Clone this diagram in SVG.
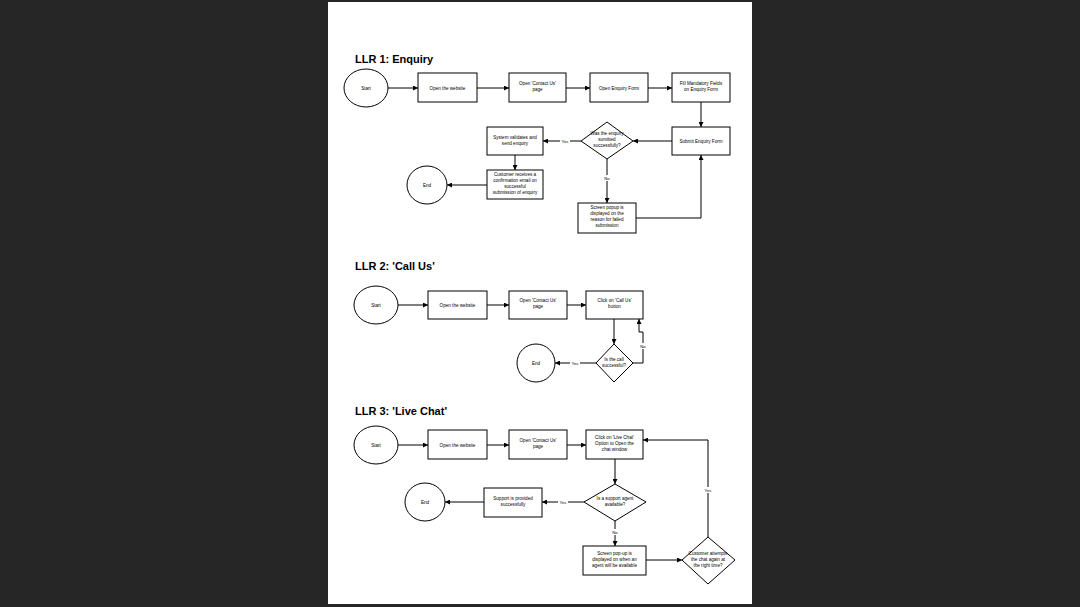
<svg xmlns="http://www.w3.org/2000/svg" width="1080" height="607" viewBox="0 0 1080 607">
<style>
.n{fill:#fff;stroke:#000;stroke-width:1}
.t{font-family:"Liberation Sans",Arial,sans-serif;font-size:4.6px;fill:#000;text-anchor:middle}
.h{font-family:"Liberation Sans",Arial,sans-serif;font-size:11px;font-weight:bold;fill:#000}
.c{fill:none;stroke:#000;stroke-width:1;marker-end:url(#a)}
.l{font-family:"Liberation Sans",Arial,sans-serif;font-size:4.2px;fill:#000;text-anchor:middle}
</style>
<defs><marker id="a" viewBox="0 0 6 6" refX="6" refY="3" markerWidth="5" markerHeight="5" orient="auto" markerUnits="userSpaceOnUse"><path d="M0,0L6,3L0,6z" fill="#000"/></marker></defs>
<rect width="1080" height="607" fill="#262626"/>
<rect x="328" y="2" width="424" height="602" fill="#fff"/>
<text class="h" x="355" y="63">LLR 1: Enquiry</text>
<text class="h" x="355" y="270">LLR 2: 'Call Us'</text>
<text class="h" x="355" y="415">LLR 3: 'Live Chat'</text>
<g id="connectors">
<path class="c" d="M388,88H418"/><path class="c" d="M477,88H509"/><path class="c" d="M566,88H590"/><path class="c" d="M648,88H672"/>
<path class="c" d="M701,102V127"/><path class="c" d="M672,141H633"/><path class="c" d="M581,141H543"/>
<path class="c" d="M515,155V170"/><path class="c" d="M487,185H447"/><path class="c" d="M607,159V203"/>
<path class="c" d="M636,218H701V155"/>
<path class="c" d="M398,305H428"/><path class="c" d="M487,305H509"/><path class="c" d="M567,305H586"/>
<path class="c" d="M614,319V344"/><path class="c" d="M596,363H555"/><path class="c" d="M633,363H643V332H639V319"/>
<path class="c" d="M398,445H428"/><path class="c" d="M487,445H509"/><path class="c" d="M567,445H586"/>
<path class="c" d="M615,459V484"/><path class="c" d="M584,502H542"/><path class="c" d="M484,502H445"/>
<path class="c" d="M615,521V546"/><path class="c" d="M646,560H682"/><path class="c" d="M708,537V440H643"/>
<rect x="560" y="138" width="10" height="6" fill="#fff"/><text class="l" x="565" y="142.5">Yes</text>
<rect x="603" y="175" width="8" height="6" fill="#fff"/><text class="l" x="607" y="179.5">No</text>
<rect x="570" y="360" width="10" height="6" fill="#fff"/><text class="l" x="575" y="364.5">Yes</text>
<rect x="639" y="343" width="8" height="6" fill="#fff"/><text class="l" x="643" y="347.5">No</text>
<rect x="558" y="499" width="10" height="6" fill="#fff"/><text class="l" x="563" y="503.5">Yes</text>
<rect x="611" y="529" width="8" height="6" fill="#fff"/><text class="l" x="615" y="533.5">No</text>
<rect x="703" y="487" width="10" height="6" fill="#fff"/><text class="l" x="708" y="491.5">Yes</text>
</g>
<g id="s1"><ellipse class="n" cx="366" cy="88" rx="22" ry="19"/><text class="t" x="366" y="89.5">Start</text></g>
<g id="w1"><rect class="n" x="418" y="73" width="59" height="29"/><text class="t" x="447.5" y="89.5">Open the website</text></g>
<g id="c1"><rect class="n" x="509" y="73" width="57" height="29"/><text class="t" x="537.5" y="85">Open 'Contact Us'</text><text class="t" x="537.5" y="91">page</text></g>
<g id="e1"><rect class="n" x="590" y="73" width="58" height="29"/><text class="t" x="619" y="89.5">Open Enquiry Form</text></g>
<g id="f1"><rect class="n" x="672" y="73" width="58" height="29"/><text class="t" x="701" y="85">Fill Mandatory Fields</text><text class="t" x="701" y="91">on Enquiry Form</text></g>
<g id="sub1"><rect class="n" x="672" y="127" width="58" height="28"/><text class="t" x="701" y="142.5">Submit Enquiry Form</text></g>
<g id="d1"><path class="n" d="M607,122L633,141L607,159L581,141Z"/><text class="t" x="607" y="135">Was the enquiry</text><text class="t" x="607" y="141">sumitted</text><text class="t" x="607" y="147">successfully?</text></g>
<g id="v1"><rect class="n" x="487" y="127" width="56" height="28"/><text class="t" x="515" y="139">System validates and</text><text class="t" x="515" y="145">send enquiry</text></g>
<g id="r1"><rect class="n" x="487" y="170" width="56" height="29"/><text class="t" x="515" y="176">Customer receives a</text><text class="t" x="515" y="182">confirmation email on</text><text class="t" x="515" y="188">successful</text><text class="t" x="515" y="194">submission of enquiry</text></g>
<g id="end1"><ellipse class="n" cx="427" cy="185" rx="20" ry="19"/><text class="t" x="427" y="186.5">End</text></g>
<g id="p1"><rect class="n" x="578" y="203" width="58" height="30"/><text class="t" x="607" y="209">Screen popup is</text><text class="t" x="607" y="215">displayed on the</text><text class="t" x="607" y="221">reason for failed</text><text class="t" x="607" y="227">submission</text></g>
<g id="s2"><ellipse class="n" cx="376" cy="305" rx="22" ry="19"/><text class="t" x="376" y="306.5">Start</text></g>
<g id="w2"><rect class="n" x="428" y="291" width="59" height="28"/><text class="t" x="457.5" y="306.5">Open the website</text></g>
<g id="c2"><rect class="n" x="509" y="291" width="58" height="28"/><text class="t" x="538" y="302">Open 'Contact Us'</text><text class="t" x="538" y="308">page</text></g>
<g id="k2"><rect class="n" x="586" y="291" width="57" height="28"/><text class="t" x="614.5" y="302">Click on 'Call Us'</text><text class="t" x="614.5" y="308">button</text></g>
<g id="d2"><path class="n" d="M614,344L633,363L614,382L596,363Z"/><text class="t" x="614" y="361">Is the call</text><text class="t" x="614" y="367">successful?</text></g>
<g id="end2"><ellipse class="n" cx="536" cy="363" rx="19" ry="19"/><text class="t" x="536" y="364.5">End</text></g>
<g id="s3"><ellipse class="n" cx="376" cy="445" rx="22" ry="19"/><text class="t" x="376" y="446.5">Start</text></g>
<g id="w3"><rect class="n" x="428" y="430" width="59" height="29"/><text class="t" x="457.5" y="446.5">Open the website</text></g>
<g id="c3"><rect class="n" x="509" y="430" width="58" height="29"/><text class="t" x="538" y="442">Open 'Contact Us'</text><text class="t" x="538" y="448">page</text></g>
<g id="k3"><rect class="n" x="586" y="430" width="57" height="29"/><text class="t" x="614.5" y="439">Click on 'Live Chat'</text><text class="t" x="614.5" y="445">Option to Open the</text><text class="t" x="614.5" y="451">chat window</text></g>
<g id="d3"><path class="n" d="M615,484L646,502L615,521L584,502Z"/><text class="t" x="615" y="500">Is a support agent</text><text class="t" x="615" y="506">available?</text></g>
<g id="sp3"><rect class="n" x="484" y="488" width="58" height="29"/><text class="t" x="513" y="500">Support is provided</text><text class="t" x="513" y="506">successfully</text></g>
<g id="end3"><ellipse class="n" cx="425" cy="502" rx="20" ry="19"/><text class="t" x="425" y="503.5">End</text></g>
<g id="p3"><rect class="n" x="583" y="546" width="63" height="29"/><text class="t" x="614.5" y="555">Screen pop-up is</text><text class="t" x="614.5" y="561">displayed on when an</text><text class="t" x="614.5" y="567">agent will be available</text></g>
<g id="d4"><path class="n" d="M708,537L735,560L708,584L682,560Z"/><text class="t" x="708" y="555">Customer attempts</text><text class="t" x="708" y="561">the chat again at</text><text class="t" x="708" y="567">the right time?</text></g>
</svg>
